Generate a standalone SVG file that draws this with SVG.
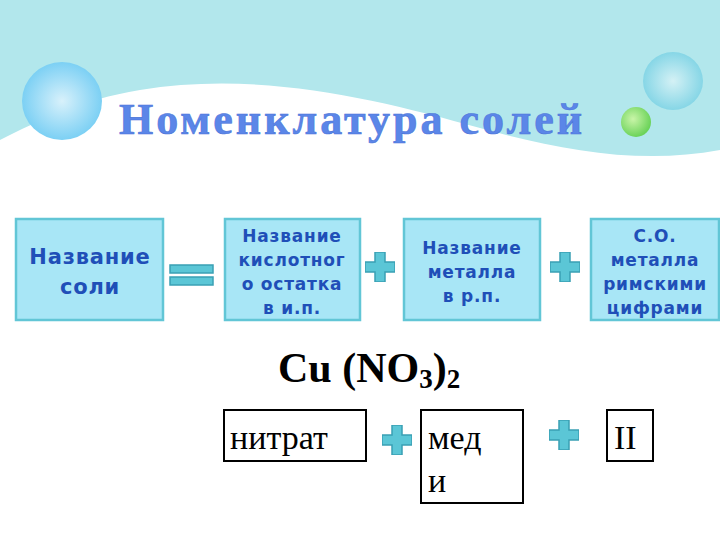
<svg xmlns="http://www.w3.org/2000/svg" width="720" height="540" viewBox="0 0 720 540">
<defs>
<radialGradient id="b1" cx="0.5" cy="0.5" r="0.5"><stop offset="0" stop-color="#d8f1fb"/><stop offset="1" stop-color="#7cd0f4"/></radialGradient>
<radialGradient id="b2" cx="0.5" cy="0.5" r="0.5"><stop offset="0" stop-color="#d4f1f5"/><stop offset="1" stop-color="#86d6e6"/></radialGradient>
<radialGradient id="b3" cx="0.4" cy="0.4" r="0.6"><stop offset="0" stop-color="#c9f5a8"/><stop offset="1" stop-color="#6cd35a"/></radialGradient>
<symbol id="plus" viewBox="0 0 30 30"><path d="M10 0H20V10H30V20H20V30H10V20H0V10H10Z" fill="#5bc6d6" stroke="#3aa0b4" stroke-width="1.5"/></symbol>
</defs>
<style>
.box{fill:#a8e6f6;stroke:#62c6d6;stroke-width:2.5}
.bt{font-family:"DejaVu Sans",sans-serif;font-weight:bold;fill:#1f4fb8;text-anchor:middle;letter-spacing:0.8px}
.wb{fill:#fff;stroke:#000;stroke-width:2}
.wt{font-family:"Liberation Serif",serif;font-size:34px;fill:#000}
</style>
<rect width="720" height="540" fill="#fff"/>
<path d="M0 0H720V150C640 165 560 150 480 128C380 100 260 70 140 90C80 100 40 120 0 140Z" fill="#b2e7ec"/>
<ellipse cx="62" cy="101" rx="40" ry="39" fill="url(#b1)"/>
<ellipse cx="673" cy="81" rx="30" ry="29" fill="url(#b2)"/>
<ellipse cx="636" cy="122" rx="15" ry="15" fill="url(#b3)"/>
<text x="352" y="134" font-family="Liberation Serif,serif" font-weight="bold" font-size="44" letter-spacing="3" fill="#5b86e8" text-anchor="middle" stroke="#4a74d8" stroke-width="0.6">Номенклатура солей</text>
<g id="n1"><rect class="box" x="16" y="219" width="147" height="101"/><text class="bt" font-size="21" x="90" y="264">Название</text><text class="bt" font-size="21" x="90" y="294">соли</text></g>
<g id="n2"><rect class="box" x="225" y="219" width="135" height="101"/><text class="bt" font-size="17" x="292" y="242">Название</text><text class="bt" font-size="17" x="292" y="266">кислотног</text><text class="bt" font-size="17" x="292" y="290">о остатка</text><text class="bt" font-size="17" x="292" y="314">в и.п.</text></g>
<g id="n3"><rect class="box" x="404" y="219" width="136" height="101"/><text class="bt" font-size="17" x="472" y="254">Название</text><text class="bt" font-size="17" x="472" y="278">металла</text><text class="bt" font-size="17" x="472" y="302">в р.п.</text></g>
<g id="n4"><rect class="box" x="591" y="219" width="128" height="101"/><text class="bt" font-size="17" x="655" y="242">С.О.</text><text class="bt" font-size="17" x="655" y="266">металла</text><text class="bt" font-size="17" x="655" y="290">римскими</text><text class="bt" font-size="17" x="655" y="314">цифрами</text></g>
<g id="ops">
<rect x="170" y="265" width="43" height="8" fill="#5bc6d6" stroke="#3aa0b4" stroke-width="1.5"/>
<rect x="170" y="277" width="43" height="8" fill="#5bc6d6" stroke="#3aa0b4" stroke-width="1.5"/>
<use href="#plus" x="365" y="252" width="30" height="30"/>
<use href="#plus" x="550" y="252" width="30" height="30"/>
<use href="#plus" x="382" y="425" width="30" height="30"/>
<use href="#plus" x="549" y="420" width="30" height="30"/>
</g>
<text x="278" y="382" font-family="Liberation Serif,serif" font-weight="bold" font-size="42" fill="#000">Cu (NO<tspan font-size="27" dy="6">3</tspan><tspan dy="-6">)</tspan><tspan font-size="27" dy="6">2</tspan></text>
<g id="w1"><rect class="wb" x="224" y="410" width="142" height="51"/><text class="wt" x="230" y="449">нитрат</text></g>
<g id="w2"><rect class="wb" x="421" y="410" width="102" height="93"/><text class="wt" x="428" y="449">мед</text><text class="wt" x="428" y="492">и</text></g>
<g id="w3"><rect class="wb" x="607" y="410" width="46" height="51"/><text class="wt" x="614" y="449">II</text></g>
</svg>
